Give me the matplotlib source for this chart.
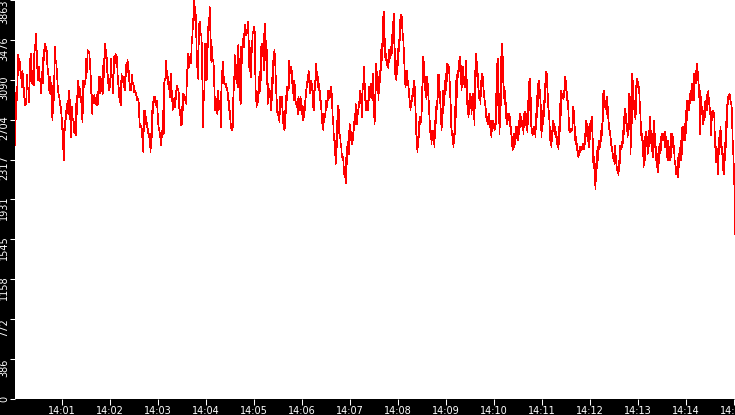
import matplotlib
matplotlib.use("Agg")
import matplotlib.pyplot as plt
import matplotlib.dates as mdates
import matplotlib.transforms as mtransforms
import numpy as np
import pandas as pd

# readings per 2.5-minute chunk, starting 14:00:01 (high/low of each stroke)
seg1 = [2455, 2746, 3020, 2891, 3328, 3247, 3295, 3182, 3166, 3020,
        3182, 3053, 2988, 2843, 2907, 2859, 3134, 3004, 3004, 2875,
        3247, 3344, 3085, 3053, 3182, 3037, 3425, 3376, 3538, 3344,
        3166, 3085, 3214, 3085, 3069, 2956, 3166, 3053, 3376, 3279,
        3441, 3376, 3408, 3247, 3166, 3117, 2956, 3117, 3020, 2859,
        2697, 3037, 2891, 3408, 3279, 3263, 3150, 3020, 2956, 2923,
        2859, 2826, 2746, 2632, 2503, 2309, 2697, 2600, 2794, 2762,
        2891, 2762, 2988, 2891, 2665, 2535, 2826, 2697, 2713, 2584,
        2584, 2552, 2940, 2762, 3085, 2923, 3020, 2940, 2923, 2794,
        2681, 3085, 3020, 3085, 3053, 3295, 3166, 3376, 3344, 3360,
        3247, 3117, 2923, 2762, 2940, 2907, 2940, 2859, 2891, 2843,
        2972, 2859, 3117, 2956, 3117, 3037, 2988, 2956, 3295, 3117,
        3441, 3376, 3344, 3166, 3117, 2988, 3101, 3020, 3295, 3117,
        3117, 2956, 3311, 3247, 3344, 3279, 3311, 3101, 3037, 2923,
        2891, 2843, 3150, 3069, 3117, 3020, 3117, 2988, 3231, 3166,
        3279, 3214, 3150, 2988, 3053, 2988, 3134, 3053, 3053, 2972]
seg2 = [2988, 2972, 2956, 2891, 2923, 2891, 2891, 2762, 2632, 2665,
        2632, 2632, 2535, 2552, 2390, 2794, 2746, 2794, 2665, 2729,
        2632, 2632, 2568, 2568, 2535, 2552, 2390, 2568, 2535, 2794,
        2762, 2923, 2875, 2923, 2891, 2891, 2826, 2891, 2762, 2665,
        2600, 2600, 2535, 2568, 2455, 2600, 2535, 2794, 2568, 3053,
        3101, 3085, 3279, 3182, 3117, 3053, 3117, 3004, 3004, 2923,
        3150, 2956, 2988, 2794, 2907, 2859, 2859, 2826, 2988, 2907,
        3037, 2988, 3004, 2988, 2826, 2794, 2746, 2649, 2826, 2665,
        2826, 2956, 2907, 2940, 2891, 2891, 2859, 3182, 3166, 3344,
        3214, 3279, 3247, 3344, 3247, 3505, 3441, 3683, 3602, 3863,
        3796, 3796, 3667, 3425, 3214, 3247, 3101, 3635, 3505, 3651,
        3538, 3538, 3408, 3020, 2632, 2988, 2891, 3441, 3085, 3344,
        3085, 3441, 3408, 3635, 3570, 3796, 3602, 3425, 3263, 3408,
        3279, 3279, 3214, 3020, 2794, 2923, 2794, 2859, 2762, 2988,
        2794, 2891, 2826, 2859, 2632, 3182, 3085, 3263, 3053, 3117,
        3053, 3053, 3020, 3053, 2988, 2988, 2891, 2891, 2794, 2794,
        2665, 2632, 2600, 2665, 2632, 3020, 2988, 3328, 3279, 3214,
        3053, 3117, 3020, 3425, 3214, 3053, 2923, 2859, 3408, 3247,
        3457, 3441, 3538, 3408, 3619, 3538, 3522, 3570, 3538, 3651,
        3602, 3247, 3182, 3182, 3117, 3441, 3360, 3554, 3538, 3602,
        3586]
seg3 = [3522, 2956, 2988, 2826, 2891, 2843, 2972, 2956, 3117, 2956,
        3166, 3053, 3408, 3311, 3441, 3376, 3408, 3182, 3538, 3279,
        3635, 3441, 3441, 3376, 3085, 2859, 3053, 2923, 3004, 2940,
        2988, 2794, 2956, 2891, 3117, 3053, 3295, 3231, 3376, 3311,
        3247, 2988, 2956, 2826, 2762, 2778, 2729, 2729, 2681, 2923,
        2826, 2923, 2826, 2923, 2794, 2729, 2616, 2697, 2600, 2794,
        2762, 2940, 2891, 3020, 2988, 3020, 3004, 3279, 3182, 3182,
        3150, 3214, 3053, 3182, 2956, 3053, 2891, 3085, 3020, 2923,
        2859, 2859, 2826, 2859, 2762, 2923, 2891, 2891, 2794, 2923,
        2891, 2891, 2762, 2762, 2697, 2762, 2729, 2891, 2794, 2956,
        2923, 3053, 3020, 3134, 3069, 3182, 3085, 3085, 2956, 3085,
        3020, 3053, 2988, 2988, 2826, 2859, 2794, 3085, 2988, 3247,
        3117, 3166, 3085, 3117, 3020, 3053, 2988, 2988, 2891, 2891,
        2794, 2729, 2665, 2665, 2600, 2762, 2729, 2762, 2729, 2891,
        2794, 2891, 2859, 2988, 2891, 2956, 2923, 2988, 2923, 3020,
        2972, 2891, 2729, 2729, 2568, 2568, 2406, 2406, 2277, 2503,
        2438, 2697, 2568, 2843, 2794, 2665, 2535, 2535, 2438, 2471,
        2341, 2374, 2309, 2341, 2180, 2245, 2148, 2180, 2090, 2374,
        2277, 2471, 2438, 2503, 2374, 2665, 2632, 2632, 2503, 2503,
        2471, 2568, 2503, 2632, 2600, 2762, 2665, 2859, 2794, 2762,
        2665, 2794, 2762, 2859, 2826, 2988, 2891, 2956, 2891, 2794,
        2729, 3053, 3020, 3214, 3053, 3053, 2891, 2891, 2794, 2859,
        2826, 2891, 2794, 3020, 2891, 2988, 2923, 3053, 2956, 2988,
        2891, 3150, 2891, 2891, 2665]
seg4 = [2746, 3037, 3247, 2988, 3166, 3053, 3101, 2891, 3117, 3004,
        3182, 3085, 3376, 3214, 3441, 3279, 3699, 3505, 3748, 3538,
        3376, 3279, 3344, 3247, 3279, 3214, 3247, 3198, 3376, 3344,
        3360, 3295, 3408, 3344, 3522, 3344, 3651, 3538, 3732, 3441,
        3214, 3117, 3117, 3085, 3279, 3150, 3392, 3311, 3473, 3376,
        3667, 3538, 3716, 3635, 3699, 3538, 3538, 3441, 3311, 3214,
        3117, 3020, 3101, 3037, 3182, 3085, 3085, 3020, 2988, 2891,
        2891, 2794, 2891, 2859, 2940, 2891, 3004, 2940, 3085, 3020,
        3020, 2762, 2762, 2471, 2471, 2390, 2535, 2471, 2681, 2632,
        2729, 2697, 2729, 2681, 3020, 2956, 3311, 3117, 3263, 3053,
        3117, 2923, 2988, 2907, 3117, 2956, 3053, 2891, 2891, 2697,
        2697, 2535, 2600, 2471, 2600, 2503, 2568, 2471, 2600, 2438,
        2697, 2600, 2826, 2762, 2891, 2826, 3134, 3020, 3134, 2988,
        2956, 2826, 2794, 2600, 2697, 2665, 2988, 2794, 2956, 2891,
        3085, 2988, 3150, 2988, 3247, 3117, 3231, 3150, 3214, 3117,
        2988, 2891, 2762, 2568, 2600, 2535, 2535, 2438, 2568, 2503,
        2826, 2568, 3085, 2826, 3134, 3085, 3182, 3117, 3279, 3182,
        3311, 3247, 3182, 2988, 3150, 3020, 3214, 3085, 3117, 3020,
        3085, 3020, 3279, 3150, 2988, 2794, 2826, 2729, 2891, 2762,
        2956, 2891, 2923, 2762, 2891, 2794, 2956, 2891, 2826, 2649,
        3182, 3020, 3344, 3279, 3247, 3085, 3150, 2956, 2956, 2891,
        2988, 2859, 3085, 3020, 3150, 3085, 3117, 2988, 2988, 2891,
        2891, 2826, 2794, 2697, 2729, 2665, 2697, 2665, 2762, 2697,
        2697, 2600, 2600, 2535, 2697, 2632, 2697, 2632, 2665, 2600]
seg5 = [2665, 2616, 2956, 2665, 3247, 2956, 3295, 2891, 2891, 2568,
        2956, 2632, 3311, 2956, 3441, 3295, 3311, 2956, 3020, 2859,
        2988, 2891, 2826, 2665, 2729, 2665, 2762, 2729, 2762, 2697,
        2729, 2600, 2632, 2535, 2535, 2406, 2471, 2422, 2568, 2438,
        2535, 2471, 2632, 2568, 2632, 2503, 2568, 2503, 2697, 2568,
        2762, 2697, 2729, 2665, 2697, 2616, 2665, 2568, 2762, 2632,
        2778, 2665, 2762, 2600, 2697, 2584, 2891, 2665, 3069, 2988,
        3101, 3004, 2729, 2600, 2616, 2552, 2600, 2568, 2632, 2584,
        2616, 2535, 2762, 2632, 2940, 2729, 3053, 3020, 3085, 3020,
        2956, 2891, 2762, 2535, 2697, 2665, 2794, 2665, 2891, 2794,
        3053, 2956, 3166, 3117, 3150, 2956, 2956, 2762, 2794, 2665,
        2568, 2471, 2503, 2438, 2600, 2535, 2697, 2600, 2665, 2568,
        2632, 2568, 2584, 2503, 2535, 2438, 2487, 2422, 2632, 2471,
        2859, 2632, 2988, 2891, 2956, 2923, 2940, 2907, 2988, 2923,
        3117, 3020, 3085, 2988, 2956, 2859, 2891, 2762, 2632, 2584,
        2616, 2584, 2616, 2600, 2616, 2600, 2826, 2697, 2794, 2665,
        2568, 2471, 2535, 2438, 2471, 2374, 2374, 2341, 2406, 2374,
        2438, 2390, 2438, 2406, 2438, 2422, 2471, 2422, 2438, 2422,
        2568, 2471, 2697, 2600, 2665, 2632, 2632, 2438, 2568, 2438,
        2665, 2535, 2697, 2665, 2729, 2568, 2438, 2245, 2341, 2180,
        2148, 2034, 2277, 2148, 2406, 2245, 2438, 2374, 2503, 2471,
        2503, 2438, 2600, 2503, 2665, 2568, 2956, 2762, 2988, 2826,
        2859, 2826, 2891, 2762, 2923, 2859, 2762, 2697, 2632, 2600,
        2600, 2535, 2503, 2438, 2438, 2374, 2374, 2309, 2341, 2277]
seg6 = [2455, 2358, 2341, 2245, 2245, 2196, 2212, 2164, 2309, 2212,
        2455, 2422, 2455, 2422, 2487, 2438, 2600, 2503, 2729, 2632,
        2810, 2746, 2762, 2600, 2665, 2535, 2632, 2568, 2956, 2665,
        2923, 2374, 2697, 2568, 3150, 2923, 3085, 2891, 2891, 2729,
        2859, 2713, 3037, 3004, 3101, 3053, 3069, 3020, 3020, 2891,
        2826, 2697, 2600, 2503, 2568, 2503, 2438, 2245, 2438, 2293,
        2535, 2438, 2584, 2471, 2535, 2374, 2503, 2438, 2600, 2471,
        2729, 2568, 2600, 2438, 2438, 2341, 2568, 2438, 2697, 2568,
        2568, 2438, 2341, 2245, 2277, 2196, 2374, 2277, 2438, 2374,
        2471, 2406, 2535, 2503, 2568, 2503, 2568, 2535, 2568, 2438,
        2584, 2535, 2471, 2341, 2406, 2309, 2503, 2406, 2438, 2309,
        2438, 2341, 2568, 2438, 2568, 2535, 2503, 2438, 2406, 2277,
        2309, 2180, 2212, 2180, 2245, 2148, 2341, 2245, 2374, 2309,
        2438, 2309, 2503, 2374, 2632, 2503, 2632, 2568, 2600, 2503,
        2665, 2568, 2794, 2697, 2891, 2826, 2826, 2794, 2891, 2859,
        2956, 2891, 2988, 2891, 3053, 3020, 3053, 2891, 3150, 3053,
        3117, 3053, 3182, 3085, 3247, 3117, 3085, 3020, 2923, 2568,
        2988, 2891, 2891, 2762, 2826, 2665, 2762, 2697, 2794, 2729,
        2891, 2826, 2891, 2794, 2956, 2891, 2988, 2859, 2891, 2762,
        2762, 2552, 2762, 2697, 2794, 2729, 2794, 2746, 2729, 2438,
        2471, 2293, 2438, 2309, 2374, 2180, 2471, 2374, 2568, 2438,
        2632, 2568, 2503, 2374, 2406, 2212, 2309, 2180, 2438, 2309,
        2535, 2438, 2762, 2632, 2923, 2859, 2940, 2907, 2956, 2923,
        2891, 2859, 2859, 2762, 2568, 2374, 2374, 2083, 2083, 1598]
segments = [seg1, seg2, seg3, seg4, seg5, seg6]

start = "2024-01-01 14:00:01"
chunk_s = 150
y_max = 3863
y_labels = ["0", "386", "772", "1158", "1545", "1931",
            "2317", "2704", "3090", "3476", "3863"]

t0 = pd.Timestamp(start)
times, values = [], []
for k, seg in enumerate(segments):
    last = k == len(segments) - 1
    offs = chunk_s * k + np.linspace(0, chunk_s, len(seg), endpoint=last)
    times.extend(t0 + pd.to_timedelta(offs, unit="s"))
    values.extend(seg)

fig = plt.figure(figsize=(7.35, 4.15), dpi=100, facecolor="black")
ax = fig.add_axes([15 / 735, 16 / 415, 720 / 735, 399 / 415])
ax.set_facecolor("white")

ax.plot(times, values, color="#ff0000", lw=0.5, antialiased=False)

ax.set_xlim(times[0], times[-1])
ax.set_ylim(0, y_max)
ax.set_yticks(np.linspace(0, y_max, len(y_labels)), y_labels)
ax.xaxis.set_major_locator(mdates.MinuteLocator())
ax.xaxis.set_major_formatter(mdates.DateFormatter("%H:%M"))

for s in ax.spines.values():
    s.set_visible(False)

ax.tick_params(colors="white", labelsize=7, width=0.75)
ax.tick_params(axis="y", length=3.6, pad=0.8, labelrotation=90)
ax.tick_params(axis="x", length=4.0, pad=0.8)

# y labels sit a little below their tick in the original
shift = mtransforms.ScaledTranslation(0, -6 / 72, fig.dpi_scale_trans)
labels = ax.get_yticklabels()
for i, lab in enumerate(labels):
    lab.set_verticalalignment("center")
    if i == len(labels) - 1:
        lab.set_verticalalignment("top")
    elif i > 0:
        lab.set_transform(lab.get_transform() + shift)

fig.savefig("out.png", dpi=100, facecolor="black")
